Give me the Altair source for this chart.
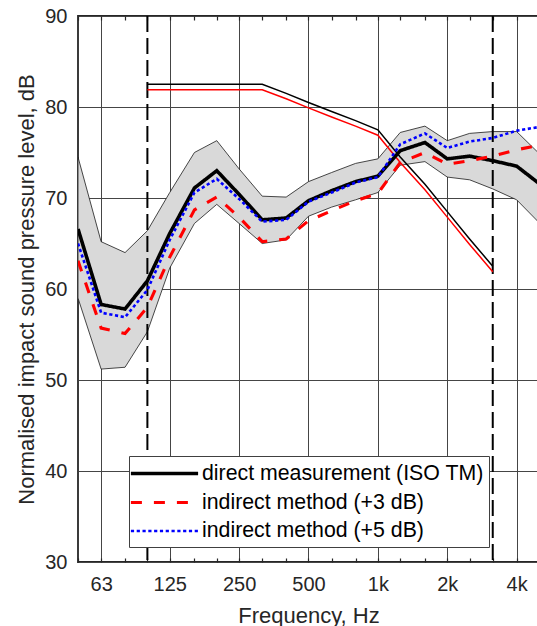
import altair as alt
import pandas as pd

# One-third octave band centre frequencies, Hz
bands = [50, 63, 80, 100, 125, 160, 200, 250, 315, 400, 500, 630, 800,
         1000, 1250, 1600, 2000, 2500, 3150, 4000, 5000]
octave_ticks = [63, 125, 250, 500, 1000, 2000, 4000]

# Normalised impact sound pressure level, dB
direct = [66.6, 58.3, 57.8, 60.9, 66.1, 71.1, 73.0, 70.4, 67.6, 67.8, 69.7,
          70.8, 71.8, 72.4, 75.2, 76.1, 74.3, 74.6, 74.1, 73.5, 71.6]
indirect_3 = [63.1, 55.7, 55.1, 58.0, 63.5, 68.7, 70.1, 67.9, 65.2, 65.5, 67.5,
              68.6, 69.7, 70.5, 73.9, 75.0, 73.7, 74.1, 74.6, 75.3, 75.8]
indirect_5 = [65.0, 57.4, 56.9, 59.9, 65.4, 70.6, 72.1, 69.9, 67.4, 67.6, 69.6,
              70.6, 71.7, 72.3, 75.9, 77.1, 75.5, 76.2, 76.6, 77.4, 77.8]

# Spread of the direct measurement (grey band)
band_upper = [74.5, 65.2, 64.0, 66.4, 70.6, 75.0, 76.3, 73.2, 70.2, 70.1, 71.8,
              72.8, 73.8, 74.3, 77.2, 77.9, 76.3, 77.1, 77.3, 77.3, 74.9]
band_lower = [59.0, 51.2, 51.4, 55.3, 62.3, 67.2, 69.3, 67.2, 65.0, 65.4, 68.0,
              69.0, 69.8, 70.6, 73.6, 74.0, 72.3, 72.0, 71.0, 69.8, 67.3]

# Shifted reference curves, 100-3150 Hz
ref_bands = [100, 125, 160, 200, 250, 315, 400, 500, 630, 800,
             1000, 1250, 1600, 2000, 2500, 3150]
ref_direct = [82.5, 82.5, 82.5, 82.5, 82.5, 82.5, 81.5, 80.5, 79.5, 78.5,
              77.5, 74.5, 71.5, 68.5, 65.5, 62.5]
ref_indirect = [81.9, 81.9, 81.9, 81.9, 81.9, 81.9, 80.9, 79.9, 78.9, 77.9,
                76.9, 73.9, 70.9, 67.9, 64.9, 61.9]

# Evaluation range limits
range_limits = [100, 3150]

series_names = ["direct measurement (ISO TM)", "indirect method (+3 dB)",
                "indirect method (+5 dB)"]
series_values = [direct, indirect_3, indirect_5]
series_colors = ["#000000", "#ff0000", "#0000ff"]
series_dash = [[1, 0], [11, 12], [3.2, 2.6]]
series_width = [3.6, 2.6, 3.2]

FONT = "Liberation Sans"
INK = "#262626"
GRID = "#454545"

series_df = pd.DataFrame(
    [{"f": f, "v": v, "series": name}
     for name, vals in zip(series_names, series_values)
     for f, v in zip(bands, vals)]
)
band_df = pd.DataFrame({"f": bands, "hi": band_upper, "lo": band_lower})
ref_direct_df = pd.DataFrame({"f": ref_bands, "v": ref_direct})
ref_indirect_df = pd.DataFrame({"f": ref_bands, "v": ref_indirect})
limits_df = pd.DataFrame({"f": range_limits})

xscale = alt.Scale(type="log", domain=[50, 5000], nice=False)
yscale = alt.Scale(domain=[30, 90], nice=False, zero=False)

octave_test = f"indexof({octave_ticks}, datum.value) >= 0"

bottom_axis = alt.Axis(
    orient="bottom", values=bands, offset=-4, tickSize=4, tickWidth=1.2,
    tickColor=INK, domain=False,
    labelExpr=(f"{octave_test} ? (datum.value >= 1000 ? "
               "(datum.value / 1000) + 'k' : datum.value + '') : ''"),
    labelFont=FONT, labelFontSize=20, labelColor=INK, labelPadding=12,
    labelOverlap=False, labelFlush=False,
    grid=True, gridColor=GRID, gridWidth=1,
    gridOpacity={"condition": {"test": octave_test, "value": 1}, "value": 0},
    title="Frequency, Hz", titleFont=FONT, titleFontSize=22,
    titleFontWeight="normal", titleColor=INK, titleBaseline="alphabetic",
    titleY=64,
)
top_axis = alt.Axis(
    orient="top", values=bands, offset=-4, tickSize=4, tickWidth=1.2,
    tickColor=INK, domain=False, labels=False, grid=False, title=None,
)
y_axis = alt.Axis(
    values=[30, 40, 50, 60, 70, 80, 90], domain=False, ticks=False,
    grid=True, gridColor=GRID, gridWidth=1,
    labelFont=FONT, labelFontSize=20, labelColor=INK, labelPadding=11,
    title="Normalised impact sound pressure level, dB", titleFont=FONT,
    titleFontSize=22, titleFontWeight="normal", titleColor=INK,
    titleAngle=270, titleBaseline="alphabetic", titleAlign="center",
    titleX=-45, titleY=273,
)


def ypos(field):
    return alt.Y(field, scale=yscale, axis=y_axis)


band = alt.Chart(band_df).mark_area(
    fill="#d9d9d9", stroke="#1a1a1a", strokeWidth=0.8, clip=True
).encode(
    x=alt.X("f:Q", scale=xscale, axis=bottom_axis),
    y=ypos("hi:Q"),
    y2="lo:Q",
)

limits = alt.Chart(limits_df).mark_rule(
    color="#000000", strokeWidth=2, strokeDash=[16, 6]
).encode(x=alt.X("f:Q", scale=xscale, axis=top_axis))

ref_black = alt.Chart(ref_direct_df).mark_line(
    color="#000000", strokeWidth=1.5, clip=True
).encode(x=alt.X("f:Q", scale=xscale, axis=None), y=ypos("v:Q"))

ref_red = alt.Chart(ref_indirect_df).mark_line(
    color="#ff0000", strokeWidth=1.5, clip=True
).encode(x=alt.X("f:Q", scale=xscale, axis=None), y=ypos("v:Q"))

lines = alt.Chart(series_df).mark_line(clip=True, strokeCap="butt").encode(
    x=alt.X("f:Q", scale=xscale, axis=None),
    y=ypos("v:Q"),
    color=alt.Color("series:N", title=None,
                    scale=alt.Scale(domain=series_names, range=series_colors)),
    strokeDash=alt.StrokeDash("series:N", title=None,
                              scale=alt.Scale(domain=series_names, range=series_dash)),
    strokeWidth=alt.StrokeWidth("series:N", title=None,
                                scale=alt.Scale(domain=series_names, range=series_width)),
)

chart = (
    alt.layer(band, limits, ref_black, ref_red, lines)
    .resolve_axis(x="independent")
    .properties(
        width=461, height=546,
        autosize=alt.AutoSizeParams(type="none"),
        padding={"left": 78, "top": 16, "right": -2, "bottom": 64},
        background="white",
    )
    .configure_view(stroke=INK, strokeWidth=1.8)
    .configure_legend(
        orient="none", legendX=51, legendY=440,
        fillColor="white", strokeColor="#404040", padding=5, rowPadding=6,
        symbolType="M-3.2,0H3.2", symbolSize=441, symbolOffset=18,
        labelOffset=25, labelFont=FONT, labelFontSize=21.3, labelColor="#000000",
        labelLimit=0,
    )
)

chart.save("out.html", embed_options={"renderer": "svg", "actions": False})
